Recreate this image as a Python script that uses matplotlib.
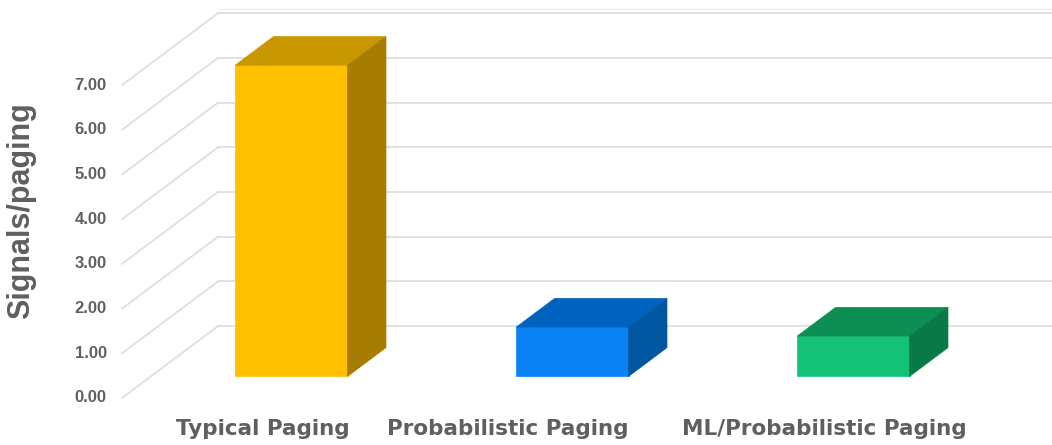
import matplotlib
matplotlib.use("Agg")
import matplotlib.pyplot as plt
from matplotlib.patches import Polygon

categories = ["Typical Paging", "Probabilistic Paging", "ML/Probabilistic Paging"]
values = [6.96, 1.10, 0.90]
label_pos = [0.5, 1.372, 2.5]
yticks = [0, 1, 2, 3, 4, 5, 6, 7]
ytick_labels = ["0.00", "1.00", "2.00", "3.00", "4.00", "5.00", "6.00", "7.00"]

front_cols = ["#FFC000", "#0A82F5", "#14C277"]
top_cols = ["#C99700", "#0063C0", "#0C8E55"]
side_cols = ["#A67D00", "#00569F", "#097A47"]

# oblique depth of the 3d box, in data units
DX, DY = 0.342, 1.61
BAR_W = 0.4
D0, D1 = 0.3, 0.7


def proj(x, y, d):
    return (x + d * DX, y + d * DY)


plt.rcParams["font.family"] = ["Liberation Sans", "DejaVu Sans"]
fig = plt.figure(figsize=(10.52, 4.45), dpi=100)
ax = fig.add_axes([0, 0, 1, 1])
ax.set_xlim(-0.4342, 3.3096)
ax.set_ylim(-1.0515, 8.904)
ax.axis("off")

grid = "#DCDCDC"
for v in yticks:
    x0, y0 = proj(0, v, 0)
    x1, y1 = proj(0, v, 1)
    ax.plot([x0, x1], [y0, y1], color=grid, lw=1.2, zorder=1)
    ax.plot([x1, 3.4], [y1, y1], color=grid, lw=1.2, zorder=1)
# faint top edge of the back wall
ax.plot([proj(0, 0, 1)[0], 3.4], [7.1 + DY, 7.1 + DY], color="#EFEFEF", lw=1.0, zorder=1)

for i, v in enumerate(values):
    xl, xr = i + 0.5 - BAR_W / 2, i + 0.5 + BAR_W / 2
    front = [proj(xl, 0, D0), proj(xr, 0, D0), proj(xr, v, D0), proj(xl, v, D0)]
    top = [proj(xl, v, D0), proj(xr, v, D0), proj(xr, v, D1), proj(xl, v, D1)]
    side = [proj(xr, 0, D0), proj(xr, 0, D1), proj(xr, v, D1), proj(xr, v, D0)]
    ax.add_patch(Polygon(front, closed=True, fc=front_cols[i], ec=front_cols[i], lw=0.5, zorder=3))
    ax.add_patch(Polygon(top, closed=True, fc=top_cols[i], ec=top_cols[i], lw=0.5, zorder=3))
    ax.add_patch(Polygon(side, closed=True, fc=side_cols[i], ec=side_cols[i], lw=0.5, zorder=3))

txt = "#5F5F5F"
for v, lab in zip(yticks, ytick_labels):
    ax.text(-0.054, v, lab, ha="right", va="center", fontsize=12, fontweight="bold", color=txt)

for x, lab in zip(label_pos, categories):
    ax.text(x, -0.69, lab, ha="center", va="center", fontsize=15.5, fontweight="bold",
            color=txt, family="DejaVu Sans")

ax.text(-0.36, 4.2, "Signals/paging", rotation=90, ha="center", va="center",
        fontsize=22, fontweight="bold", color=txt)

fig.savefig("out.png", dpi=100)
